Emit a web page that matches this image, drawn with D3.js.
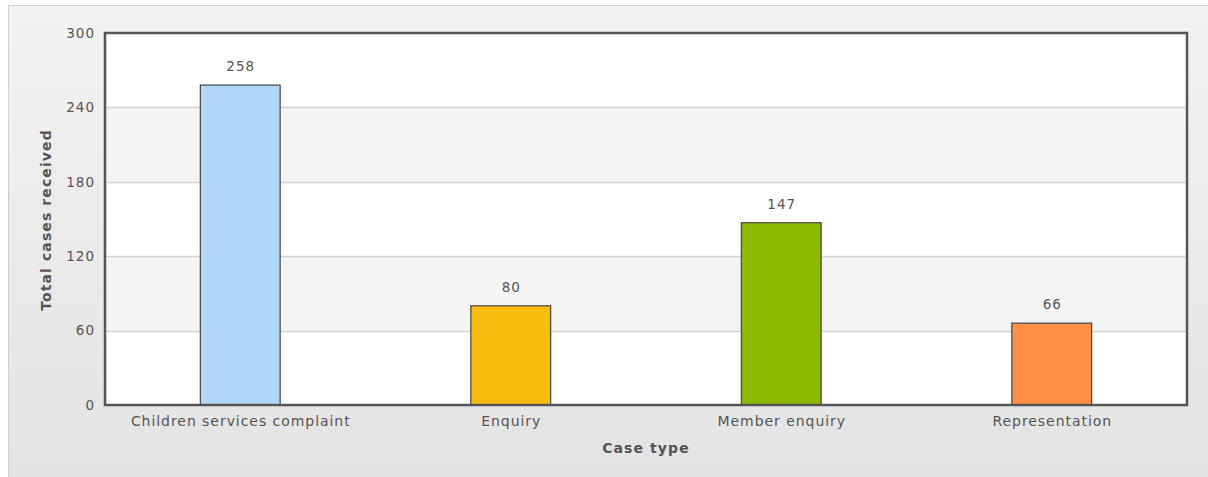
<!DOCTYPE html>
<html>
<head>
<meta charset="utf-8">
<script src="https://cdn.jsdelivr.net/npm/d3@7"></script>
<style>
  html, body { margin: 0; padding: 0; background: #fff; }
  svg { display: block; }
  text { font-family: "DejaVu Sans", Verdana, sans-serif; }
</style>
</head>
<body>
<svg id="chart" width="1208" height="477"></svg>
<script>
// Case counts by type
const categories = ["Children services complaint", "Enquiry", "Member enquiry", "Representation"];
const values = [258, 80, 147, 66];
const barColors = ["#b1d7f7", "#f6bd0f", "#8bba00", "#ff8e46"];
const yTicks = [0, 60, 120, 180, 240, 300];

const svg = d3.select("#chart");
const W = 1208, H = 477;
const plot = { left: 105, top: 33, right: 1187, bottom: 405 };
const FONT = "DejaVu Sans, Verdana, sans-serif";

// Panel background with soft vertical gradient
const defs = svg.append("defs");
const grad = defs.append("linearGradient").attr("id", "panelBg")
  .attr("x1", 0).attr("y1", 0).attr("x2", 0).attr("y2", 1);
grad.append("stop").attr("offset", "0%").attr("stop-color", "#f2f2f2");
grad.append("stop").attr("offset", "100%").attr("stop-color", "#e3e3e3");

svg.append("rect").attr("x", 0).attr("y", 0).attr("width", W).attr("height", H).attr("fill", "#fff");
svg.append("rect").attr("x", 8.5).attr("y", 5.5).attr("width", W + 10).attr("height", H)
  .attr("fill", "url(#panelBg)").attr("stroke", "#cfcfcf").attr("stroke-width", 1);

const x = d3.scaleBand().domain(categories).range([plot.left, plot.right]).paddingInner(0).paddingOuter(0);
const y = d3.scaleLinear().domain([0, 300]).range([plot.bottom, plot.top]);

// Plot background and alternating bands
svg.append("rect").attr("x", plot.left).attr("y", plot.top)
  .attr("width", plot.right - plot.left).attr("height", plot.bottom - plot.top).attr("fill", "#fff");
const bands = d3.pairs(yTicks).filter((d, i) => i % 2 === 1);
svg.selectAll("rect.band").data(bands).join("rect").attr("class", "band")
  .attr("x", plot.left).attr("width", plot.right - plot.left)
  .attr("y", d => y(d[1])).attr("height", d => y(d[0]) - y(d[1]))
  .attr("fill", "#f4f4f4");

// Horizontal grid lines
svg.selectAll("line.grid").data(yTicks.slice(1, -1)).join("line").attr("class", "grid")
  .attr("x1", plot.left).attr("x2", plot.right)
  .attr("y1", d => Math.round(y(d)) + 0.5).attr("y2", d => Math.round(y(d)) + 0.5)
  .attr("stroke", "#d2d2d2").attr("stroke-width", 1.5);

// Bars
const barW = x.bandwidth() * 0.295;
svg.selectAll("rect.bar").data(values).join("rect").attr("class", "bar")
  .attr("x", (d, i) => x(categories[i]) + x.bandwidth() / 2 - barW / 2)
  .attr("y", d => y(d))
  .attr("width", barW)
  .attr("height", d => y(0) - y(d))
  .attr("fill", (d, i) => barColors[i])
  .attr("stroke", "#444").attr("stroke-width", 1.2);

// Value labels
svg.selectAll("text.val").data(values).join("text").attr("class", "val")
  .attr("x", (d, i) => x(categories[i]) + x.bandwidth() / 2 + 0.5)
  .attr("y", d => y(d) - 14)
  .attr("text-anchor", "middle")
  .attr("font-size", 13.5).attr("letter-spacing", 1).attr("fill", "#555")
  .text(d => d);

// Plot frame
svg.append("rect").attr("x", plot.left).attr("y", plot.top)
  .attr("width", plot.right - plot.left).attr("height", plot.bottom - plot.top)
  .attr("fill", "none").attr("stroke", "#555").attr("stroke-width", 2.5);

// Y axis tick labels
const yAxis = d3.axisLeft(y).tickValues(yTicks).tickSize(0).tickPadding(10);
const gy = svg.append("g").attr("transform", `translate(${plot.left},0)`).call(yAxis);
gy.select(".domain").remove();
gy.selectAll("text").attr("font-size", 13.5).attr("letter-spacing", 1).attr("fill", "#555")
  .attr("font-family", FONT);

// X axis category labels
const xAxis = d3.axisBottom(x).tickSize(0).tickPadding(11);
const gx = svg.append("g").attr("transform", `translate(0,${plot.bottom})`).call(xAxis);
gx.select(".domain").remove();
gx.selectAll("text").attr("font-size", 14).attr("letter-spacing", 0.95).attr("fill", "#555")
  .attr("font-family", FONT).attr("dx", 0.5);

// Axis titles
svg.append("text")
  .attr("x", (plot.left + plot.right) / 2).attr("y", 453)
  .attr("text-anchor", "middle").attr("font-size", 14).attr("font-weight", "bold")
  .attr("letter-spacing", 1.1).attr("fill", "#555")
  .text("Case type");
svg.append("text")
  .attr("transform", `translate(51,${(plot.top + plot.bottom) / 2 + 1}) rotate(-90)`)
  .attr("text-anchor", "middle").attr("font-size", 14).attr("font-weight", "bold")
  .attr("letter-spacing", 1.1).attr("fill", "#555")
  .text("Total cases received");
</script>
</body>
</html>
